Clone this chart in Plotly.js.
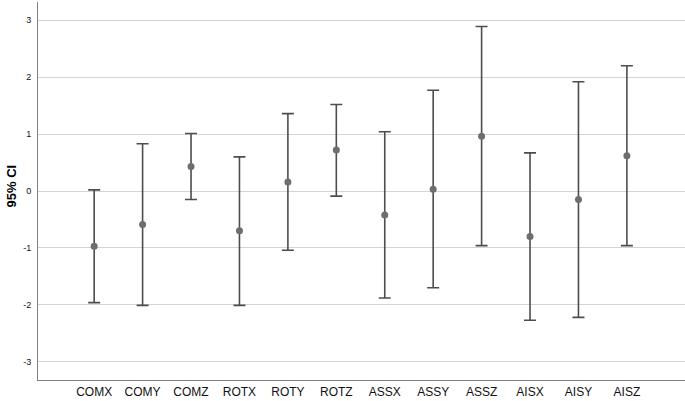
<!DOCTYPE html>
<html><head><meta charset="utf-8">
<script src="https://cdn.plot.ly/plotly-3.0.1.min.js"></script>
<style>html,body{margin:0;padding:0;background:#fff}#chart{width:685px;height:401px}</style>
</head><body><div id="chart"></div>
<script>
const categories = ["COMX","COMY","COMZ","ROTX","ROTY","ROTZ","ASSX","ASSY","ASSZ","AISX","AISY","AISZ"];
const means = [-0.97,-0.59,0.43,-0.70,0.16,0.72,-0.42,0.03,0.96,-0.80,-0.15,0.62];
const upper = [0.02,0.83,1.01,0.60,1.36,1.52,1.04,1.77,2.89,0.67,1.92,2.20];
const lower = [-1.96,-2.01,-0.15,-2.01,-1.04,-0.09,-1.88,-1.70,-0.96,-2.27,-2.22,-0.96];
const yTickVals = [-3,-2,-1,0,1,2,3];
const yTickText = ["-3","-2","-1","0","1","2","3"];

const trace = {
  type: 'scatter', mode: 'markers',
  x: categories, y: means,
  marker: {color: '#6e6e6e', size: 7},
  error_y: {
    type: 'data', symmetric: false,
    array: upper.map((u,i)=>u-means[i]),
    arrayminus: lower.map((l,i)=>means[i]-l),
    color: '#4d4d4d', thickness: 1.6, width: 6
  },
  hoverinfo: 'none'
};
const layout = {
  width: 685, height: 401,
  margin: {l: 38, r: 0, t: 2, b: 21},
  paper_bgcolor: '#fff', plot_bgcolor: '#fff',
  showlegend: false,
  font: {family: 'Liberation Sans, Arial, sans-serif', color: '#000'},
  xaxis: {
    type: 'category', range: [-1.16, 12.2],
    showgrid: false, zeroline: false,
    showline: true, linecolor: '#808080', linewidth: 1,
    ticks: '', tickfont: {size: 12, color: '#111'}, ticklabelstandoff: 1
  },
  yaxis: {
    range: [-3.32, 3.32],
    tickvals: yTickVals, ticktext: yTickText,
    showgrid: true, gridcolor: '#d4d4d4', gridwidth: 1,
    zeroline: false, showline: true, linecolor: '#808080', linewidth: 1,
    ticks: '', tickfont: {size: 9, color: '#111'}, ticklabelstandoff: 4
  },
  annotations: [{
    text: '<b>95% CI</b>', xref: 'paper', yref: 'paper',
    x: -38/647, y: (380-186)/378, xanchor: 'left', yanchor: 'middle',
    xshift: 1, textangle: -90, showarrow: false,
    font: {size: 13, color: '#000'}
  }]
};
Plotly.newPlot('chart', [trace], layout, {staticPlot: true, displayModeBar: false});
</script></body></html>
